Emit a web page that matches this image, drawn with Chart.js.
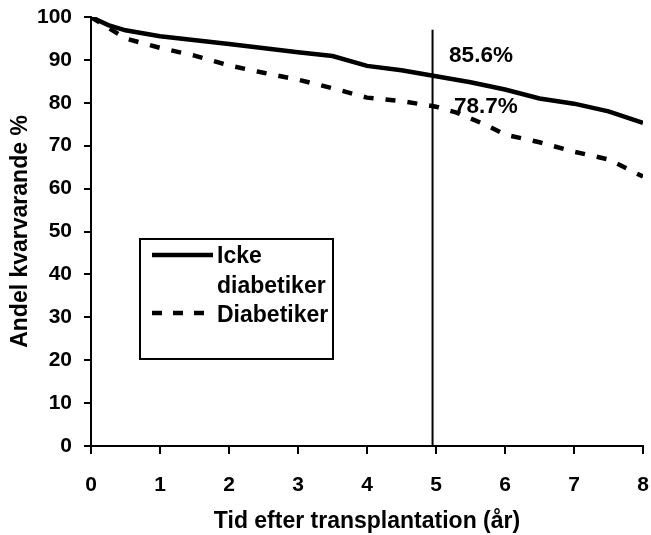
<!DOCTYPE html>
<html><head><meta charset="utf-8">
<script src="https://cdn.jsdelivr.net/npm/chart.js@4/dist/chart.umd.min.js"></script>
<style>html,body{margin:0;padding:0;background:#fff}canvas{display:block}</style>
</head><body>
<canvas id="c" width="651" height="535"></canvas>
<script>
// ---- data ----
const yearsIcke = [0, 0.25, 0.5, 1, 2, 3, 3.5, 4, 4.5, 5, 5.5, 6, 6.5, 7, 7.5, 8];
const valuesIcke = [100, 98.1, 96.9, 95.5, 93.7, 91.8, 90.9, 88.6, 87.6, 86.2, 84.8, 83.1, 81.0, 79.8, 78.0, 75.3];
const yearsDiab = [0, 0.5, 1, 1.5, 2, 2.5, 3, 3.5, 4, 4.5, 5, 5.3, 5.7, 6, 6.5, 7, 7.5, 8];
const valuesDiab = [100, 95.0, 92.8, 91.0, 88.7, 87.0, 85.4, 83.4, 81.2, 80.4, 79.1, 77.7, 75.0, 72.6, 70.8, 68.6, 66.8, 62.8];
const markerYear = [4.95, 4.95];
const markerValue = [0, 97];
const seriesNames = ['Icke diabetiker', 'Diabetiker'];
const annotationTexts = ['85.6%', '78.7%'];
const xTickValues = [0, 1, 2, 3, 4, 5, 6, 7, 8];
const yTickValues = [0, 10, 20, 30, 40, 50, 60, 70, 80, 90, 100];
const xTitle = 'Tid efter transplantation (år)';
const yTitle = 'Andel kvarvarande %';

const toXY = (xs, ys) => xs.map((x, i) => ({x: x, y: ys[i]}));
const FONT = '"Liberation Sans", Arial, sans-serif';

const overlay = {
  id: 'overlay',
  afterDatasetsDraw(chart) {
    const ctx = chart.ctx;
    const xs = chart.scales.x, ys = chart.scales.y;
    ctx.save();
    ctx.fillStyle = '#000';
    ctx.font = 'bold 22.5px ' + FONT;
    ctx.textAlign = 'left';
    ctx.textBaseline = 'middle';
    ctx.fillText(annotationTexts[0], xs.getPixelForValue(5.19), ys.getPixelForValue(90.9));
    ctx.fillText(annotationTexts[1], xs.getPixelForValue(5.26), ys.getPixelForValue(79.0));
    // legend box
    ctx.strokeStyle = '#000';
    ctx.lineWidth = 2;
    ctx.strokeRect(140, 239, 193, 120);
    ctx.lineWidth = 4.5;
    ctx.beginPath(); ctx.moveTo(152, 255); ctx.lineTo(213, 255); ctx.stroke();
    ctx.setLineDash([10, 11]);
    ctx.beginPath(); ctx.moveTo(152, 313); ctx.lineTo(205, 313); ctx.stroke();
    ctx.setLineDash([]);
    ctx.textBaseline = 'alphabetic';
    ctx.font = 'bold 23px ' + FONT;
    ctx.fillText('Icke', 217, 263);
    ctx.fillText('diabetiker', 217, 293);
    ctx.fillText(seriesNames[1], 217, 322);
    ctx.restore();
  }
};

new Chart(document.getElementById('c'), {
  type: 'scatter',
  data: {
    datasets: [
      {label: seriesNames[0], data: toXY(yearsIcke, valuesIcke), showLine: true,
       borderColor: '#000', borderWidth: 4.5, pointRadius: 0, tension: 0, fill: false},
      {label: seriesNames[1], data: toXY(yearsDiab, valuesDiab), showLine: true,
       borderColor: '#000', borderWidth: 4.5, borderDash: [10, 12], pointRadius: 0, tension: 0, fill: false},
      {label: 'marker', data: toXY(markerYear, markerValue), showLine: true,
       borderColor: '#000', borderWidth: 2, pointRadius: 0, fill: false}
    ]
  },
  options: {
    responsive: false,
    animation: false,
    events: [],
    layout: {padding: {left: 0, top: 17, right: 8, bottom: 0}},
    plugins: {legend: {display: false}, tooltip: {enabled: false}},
    scales: {
      x: {
        type: 'linear', min: 0, max: 8,
        afterFit(s) { s.height = 89; s.paddingLeft = 0; s.paddingRight = 0; },
        afterBuildTicks(s) { s.ticks = xTickValues.map(v => ({value: v})); },
        grid: {drawOnChartArea: false, drawTicks: true, tickLength: 8, color: '#000', lineWidth: 2},
        border: {display: true, color: '#000', width: 2},
        ticks: {color: '#000', padding: 19, font: {family: FONT, size: 21, weight: 'bold'}, maxRotation: 0},
        title: {display: true, text: xTitle, color: '#000', padding: {top: 0, bottom: 0},
                font: {family: FONT, size: 23, weight: 'bold'}}
      },
      y: {
        type: 'linear', min: 0, max: 100,
        afterFit(s) { s.width = 91; s.paddingTop = 0; s.paddingBottom = 0; },
        afterBuildTicks(s) { s.ticks = yTickValues.map(v => ({value: v})); },
        grid: {drawOnChartArea: false, drawTicks: true, tickLength: 7, color: '#000', lineWidth: 2},
        border: {display: true, color: '#000', width: 2},
        ticks: {color: '#000', padding: 12, font: {family: FONT, size: 21, weight: 'bold'}},
        title: {display: true, text: yTitle, color: '#000', padding: {top: 7, bottom: 0},
                font: {family: FONT, size: 23, weight: 'bold'}}
      }
    }
  },
  plugins: [overlay]
});
</script>
</body></html>
